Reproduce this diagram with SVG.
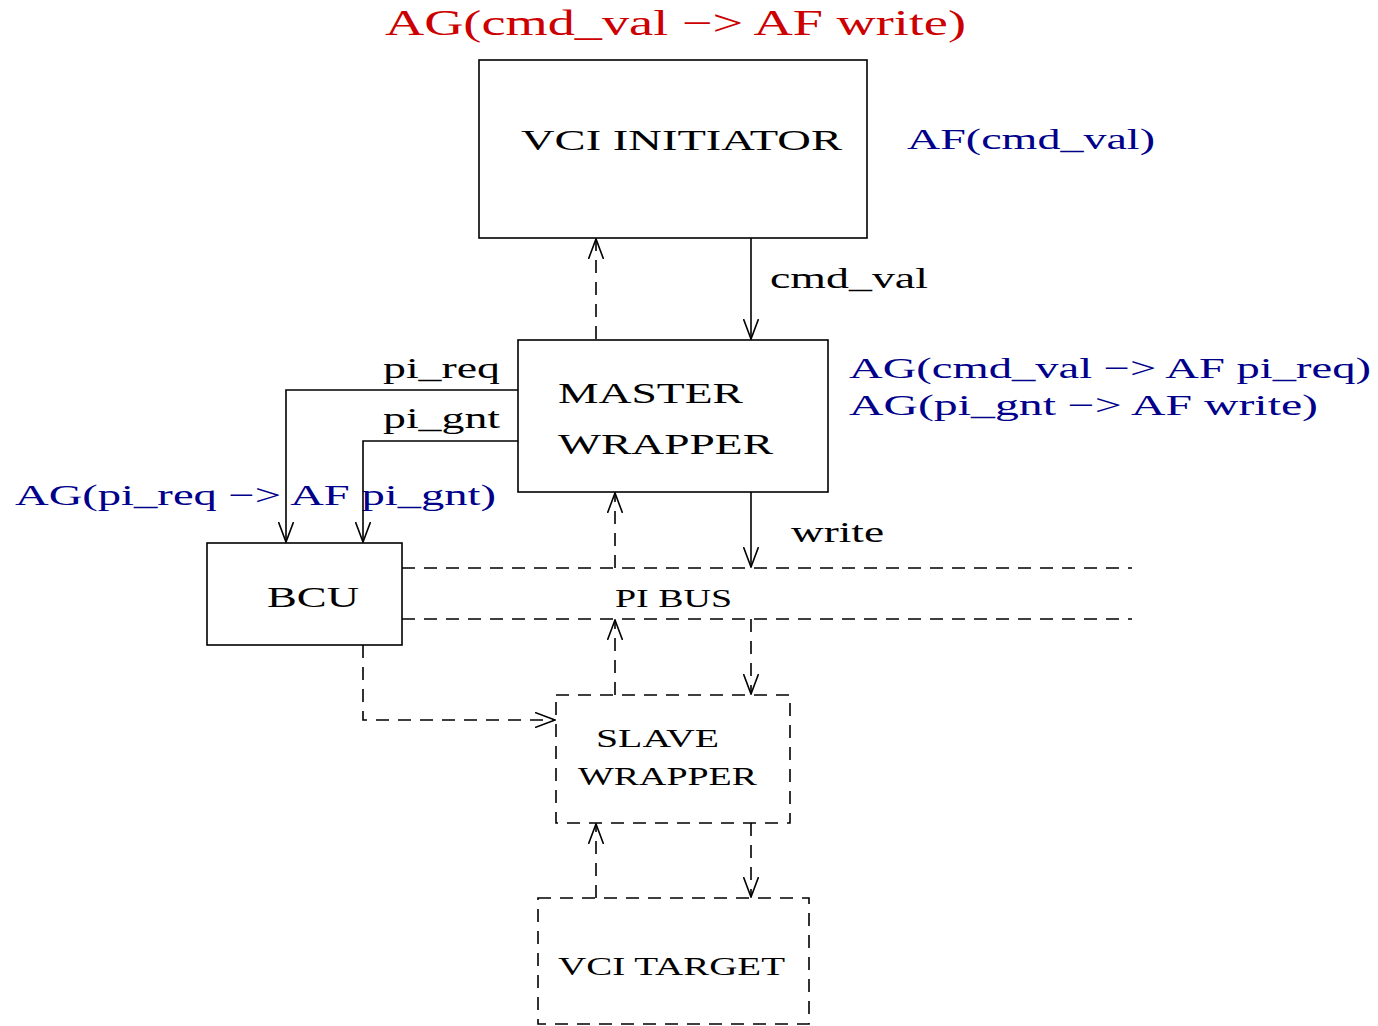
<svg xmlns="http://www.w3.org/2000/svg" width="1378" height="1026" viewBox="0 0 1378 1026">
  <style>
    text { font-family: "Liberation Serif", "Times New Roman", serif; fill: #000; }
    .box { fill: none; stroke: #000; stroke-width: 1.6; }
    .dbox { fill: none; stroke: #000; stroke-width: 1.6; stroke-dasharray: 13 9; }
    .wire { fill: none; stroke: #000; stroke-width: 1.6; }
    .dwire { fill: none; stroke: #000; stroke-width: 1.6; stroke-dasharray: 13 9; }
    .head { fill: none; stroke: #000; stroke-width: 1.6; stroke-dasharray: none; }
    .red { fill: #cc0000; }
    .blue { fill: #00008b; }
  </style>
  <defs>
    <marker id="vee" viewBox="0 0 21 16" refX="20" refY="8" markerWidth="21" markerHeight="16" markerUnits="userSpaceOnUse" orient="auto">
      <path class="head" d="M0,0.5 L20,8 L0,15.5"/>
    </marker>
  </defs>
  <rect width="1378" height="1026" fill="#fff"/>

  <!-- property annotations -->
  <text class="red" x="385" y="35" font-size="36" textLength="581" lengthAdjust="spacingAndGlyphs">AG(cmd_val −&gt; AF write)</text>
  <text class="blue" x="907" y="149" font-size="30" textLength="248" lengthAdjust="spacingAndGlyphs">AF(cmd_val)</text>
  <text class="blue" x="849" y="378" font-size="30" textLength="522" lengthAdjust="spacingAndGlyphs">AG(cmd_val −&gt; AF pi_req)</text>
  <text class="blue" x="849" y="415" font-size="30" textLength="469" lengthAdjust="spacingAndGlyphs">AG(pi_gnt −&gt;  AF write)</text>
  <text class="blue" x="15" y="505" font-size="30" textLength="481" lengthAdjust="spacingAndGlyphs">AG(pi_req −&gt; AF pi_gnt)</text>

  <!-- nodes -->
  <g id="vci-initiator">
    <rect class="box" x="479" y="60" width="388" height="178"/>
    <text x="521" y="150" font-size="30" textLength="321" lengthAdjust="spacingAndGlyphs">VCI INITIATOR</text>
  </g>
  <g id="master-wrapper">
    <rect class="box" x="518" y="340" width="310" height="152"/>
    <text x="558" y="403" font-size="30" textLength="185" lengthAdjust="spacingAndGlyphs">MASTER</text>
    <text x="558" y="454" font-size="30" textLength="215" lengthAdjust="spacingAndGlyphs">WRAPPER</text>
  </g>
  <g id="bcu">
    <rect class="box" x="207" y="543" width="195" height="102"/>
    <text x="267" y="607" font-size="29" textLength="92" lengthAdjust="spacingAndGlyphs">BCU</text>
  </g>
  <g id="pi-bus">
    <path class="dwire" d="M402,568 H1132 M402,619 H1132"/>
    <text x="615" y="607" font-size="25" textLength="117" lengthAdjust="spacingAndGlyphs">PI BUS</text>
  </g>
  <g id="slave-wrapper">
    <rect class="dbox" x="556" y="695" width="234" height="128"/>
    <text x="596" y="747" font-size="25" textLength="123" lengthAdjust="spacingAndGlyphs">SLAVE</text>
    <text x="578" y="785" font-size="25" textLength="179" lengthAdjust="spacingAndGlyphs">WRAPPER</text>
  </g>
  <g id="vci-target">
    <rect class="dbox" x="538" y="898" width="271" height="126"/>
    <text x="558" y="975" font-size="25" textLength="227" lengthAdjust="spacingAndGlyphs">VCI TARGET</text>
  </g>

  <!-- connectors -->
  <g id="connectors">
    <path class="wire" d="M751,238 V339" marker-end="url(#vee)"/>
    <text x="770" y="288" font-size="30" textLength="158" lengthAdjust="spacingAndGlyphs">cmd_val</text>
    <path class="dwire" d="M596,339 V239" marker-end="url(#vee)"/>

    <path class="wire" d="M518,390 H286 V542" marker-end="url(#vee)"/>
    <text x="383" y="378" font-size="30" textLength="117" lengthAdjust="spacingAndGlyphs">pi_req</text>
    <path class="wire" d="M518,441 H363 V542" marker-end="url(#vee)"/>
    <text x="383" y="428" font-size="30" textLength="117" lengthAdjust="spacingAndGlyphs">pi_gnt</text>

    <path class="wire" d="M751,492 V567" marker-end="url(#vee)"/>
    <text x="791" y="542" font-size="30" textLength="93" lengthAdjust="spacingAndGlyphs">write</text>
    <path class="dwire" d="M615,568 V493" marker-end="url(#vee)"/>

    <path class="dwire" d="M615,695 V620" marker-end="url(#vee)"/>
    <path class="dwire" d="M751,619 V694" marker-end="url(#vee)"/>

    <path class="dwire" d="M363,645 V720 H555" marker-end="url(#vee)"/>

    <path class="dwire" d="M596,898 V824" marker-end="url(#vee)"/>
    <path class="dwire" d="M751,823 V897" marker-end="url(#vee)"/>
  </g>
</svg>
